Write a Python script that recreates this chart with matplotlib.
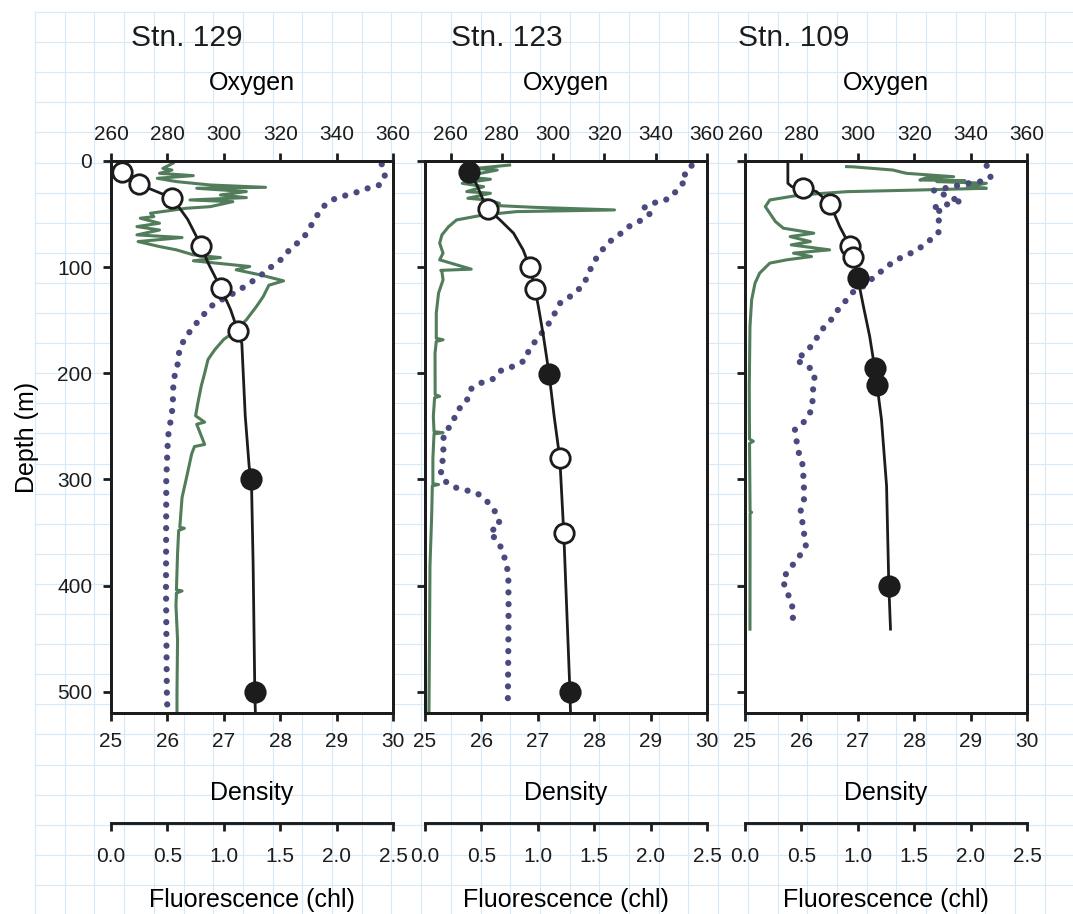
import matplotlib.pyplot as plt
import numpy as np
from matplotlib.lines import Line2D
from matplotlib.ticker import FormatStrFormatter

plt.rcParams['font.family'] = ['Liberation Sans', 'DejaVu Sans']

# --- Stn. 129 ---------------------------------------------------------
dens_z_129 = [10, 22, 35, 55, 80, 96, 120, 140, 160, 172, 240, 288, 300, 380, 500, 520]
dens_129 = [25.19, 25.50, 26.09, 26.36, 26.60, 26.72, 26.95, 27.12, 27.25, 27.32,
            27.38, 27.45, 27.49, 27.52, 27.55, 27.56]
btl_z_129 = [10, 22, 35, 80, 120, 160, 300, 500]
btl_129 = [25.19, 25.50, 26.09, 26.60, 26.95, 27.25, 27.49, 27.55]
btl_fill_129 = [0, 0, 0, 0, 0, 0, 1, 1]
oxy_z_129 = [3, 15, 23, 26, 29, 32, 35, 41, 50, 61, 68, 74, 82, 92, 100, 108, 116, 123,
             129, 135, 146, 157, 167, 178, 189, 200, 211, 222, 233, 244, 256, 267, 300,
             400, 500, 518]
oxy_129 = [356, 357.2, 354.9, 350.7, 347.7, 343.8, 339.7, 336, 333.4, 330.9, 329.4, 327.7,
           323.8, 320.7, 316.7, 313, 308.7, 304.6, 300.4, 296.3, 292.4, 289, 286.2, 284.2,
           283.9, 282.7, 282.1, 282, 281.8, 281.2, 280.4, 280.1, 279.6, 279.5, 279.8, 280]
fl_z_129 = [2, 7, 8.5, 11.6, 13.8, 16.3, 19.4, 22.6, 24.8, 25.7, 28.8, 32, 34.5, 36.7, 38.3,
            43, 44.5, 49.2, 52.4, 53.9, 58.6, 61.8, 65, 69.6, 72.1, 75.9, 80.6, 83.7, 88.4,
            91, 94, 99.4, 102.5, 107.2, 112.9, 117, 127.6, 137, 149.6, 162, 168, 177.8, 187,
            200, 212, 228, 240, 246, 248, 267, 269, 276, 298, 317, 345, 346, 348, 370, 404,
            405, 407, 419, 451, 500, 520]
fl_129 = [0.55, 0.46, 0.54, 0.43, 0.73, 0.41, 0.58, 0.88, 1.37, 0.76, 1.20, 0.97, 1.20, 0.70,
          1.08, 0.88, 0.67, 0.35, 0.38, 0.26, 0.43, 0.23, 0.43, 0.23, 0.63, 0.24, 0.43, 0.58,
          0.73, 0.97, 0.73, 1.23, 1.11, 1.32, 1.53, 1.40, 1.35, 1.29, 1.20, 1.08, 1.00, 0.92,
          0.86, 0.83, 0.80, 0.77, 0.75, 0.83, 0.76, 0.83, 0.74, 0.715, 0.67, 0.63, 0.61, 0.65,
          0.60, 0.59, 0.58, 0.63, 0.58, 0.576, 0.59, 0.585, 0.585]

# --- Stn. 123 ---------------------------------------------------------
dens_z_123 = [10.6, 22.6, 36.7, 45.5, 55.5, 68, 83.7, 100.3, 120.7, 137, 165, 200.4, 240.5,
              280, 350, 500, 520]
dens_123 = [25.78, 25.92, 26.03, 26.12, 26.33, 26.57, 26.74, 26.86, 26.95, 27.01, 27.10,
            27.20, 27.29, 27.39, 27.46, 27.57, 27.58]
btl_z_123 = [10.6, 45.5, 100.3, 120.7, 200.4, 280, 350, 500]
btl_123 = [25.78, 26.12, 26.86, 26.95, 27.20, 27.39, 27.46, 27.57]
btl_fill_123 = [1, 0, 0, 0, 1, 0, 0, 1]
oxy_z_123 = [4.4, 11.6, 17.9, 23.5, 33, 38.3, 39.8, 44.5, 49.2, 56.1, 61.8, 69.6, 76.9, 86.3,
             97.2, 107.2, 117.6, 126.7, 133.9, 144.9, 156.2, 166.2, 177.1, 187.9, 193.5,
             196.9, 205.4, 209.1, 214.8, 219.5, 228, 235.8, 246.8, 256, 267, 278, 289, 300,
             307, 310, 312.6, 321.4, 332.4, 343.4, 349.7, 358.7, 369.7, 380.7, 391.6, 420,
             460, 512]
oxy_123 = [354, 351.2, 352.3, 349.2, 346.6, 342.6, 338, 335.2, 338, 334.1, 329.5, 325.7,
           321.5, 318.3, 315.3, 313.7, 311.5, 307.2, 302.7, 300.3, 297.5, 294.2, 290.7, 289,
           284.4, 279.9, 276.4, 271.8, 267.9, 267.3, 265.9, 262.1, 261, 257.5, 256.9, 257.5,
           255.9, 256.9, 261, 265.7, 270.2, 274.5, 278, 279.3, 275, 278.7, 280.5, 281.9,
           282.5, 282.6, 282.5, 282.3]
fl_z_123 = [3.8, 6.9, 8.5, 14.8, 17.2, 21, 24.2, 28.8, 30.4, 35.1, 36.7, 39.8, 41.4, 43.6,
            46.1, 47.7, 50.8, 55.5, 61.8, 69.6, 77.4, 86.8, 93.1, 101.9, 103, 104.1, 112,
            124.5, 143.3, 167, 168.4, 170, 181, 220, 221.7, 223, 240.5, 255, 256, 257, 280,
            304, 304.8, 306, 334.6, 381.6, 450, 519]
fl_123 = [0.75, 0.46, 0.64, 0.34, 0.58, 0.33, 0.52, 0.37, 0.58, 0.38, 0.55, 0.66, 0.52, 0.96,
          1.68, 0.81, 0.52, 0.28, 0.21, 0.15, 0.13, 0.16, 0.13, 0.41, 0.14, 0.15, 0.16, 0.12,
          0.10, 0.10, 0.16, 0.10, 0.089, 0.09, 0.13, 0.085, 0.074, 0.08, 0.16, 0.08, 0.07,
          0.07, 0.12, 0.065, 0.059, 0.044, 0.04, 0.035]

# --- Stn. 109 ---------------------------------------------------------
dens_z_109 = [3.1, 21, 24.2, 25.1, 28.9, 40.5, 61.8, 80, 90, 110.4, 137, 165, 195, 210.7,
              243.6, 306, 400, 441]
dens_109 = [25.76, 25.76, 25.83, 26.03, 26.27, 26.51, 26.68, 26.86, 26.92, 27.00, 27.10,
            27.21, 27.30, 27.34, 27.42, 27.51, 27.55, 27.58]
btl_z_109 = [25.1, 40.5, 80, 90, 110.4, 195, 210.7, 400]
btl_109 = [26.03, 26.51, 26.86, 26.92, 27.00, 27.30, 27.34, 27.55]
btl_fill_109 = [0, 0, 0, 0, 1, 1, 1, 1]
oxy_z_109 = [4.4, 15.3, 19.4, 21, 27.9, 31, 35.1, 37, 40.5, 41.7, 44.9, 47.7, 57.1, 67.5,
             75.9, 83.7, 89.1, 93.8, 101.6, 108.8, 116.6, 121.4, 131.7, 141.7, 152.1, 161.2,
             170.9, 181, 187.9, 192.5, 200.7, 212.3, 222.6, 233.6, 244.6, 253, 264, 275, 286,
             297, 308, 319, 330, 341, 352, 363, 373, 383, 394, 405, 416, 427, 438]
oxy_109 = [345.7, 347.1, 343.3, 339.2, 326.8, 330.1, 332.7, 337, 332.9, 329.1, 326.3, 329.7,
           328.6, 328.6, 325, 321.1, 317.1, 313, 309.6, 305.7, 303.2, 299, 295.7, 292.5,
           289.9, 286.3, 284.8, 281, 278.1, 282.2, 284.8, 284.2, 284, 283.8, 281.4, 277.7,
           278.3, 279.1, 280.4, 280.7, 280.9, 280.9, 279.7, 280.4, 281, 281.6, 279.1, 276.2,
           273.2, 274.8, 276.4, 277.4, 276]
fl_z_109 = [5.3, 5.5, 8.5, 11.6, 14.8, 16, 17.9, 18.5, 19.4, 21, 24.2, 25.7, 27.3, 28.9, 32,
            36.7, 43, 49.2, 57.1, 63.3, 68, 71.2, 75.9, 79, 83.7, 86.8, 90, 93.1, 96.2, 105.6,
            115, 130.8, 155.9, 212, 262, 264, 266, 330, 331, 332, 441]
fl_109 = [0.90, 0.96, 1.31, 1.43, 1.85, 1.60, 1.55, 1.95, 1.70, 2.14, 1.97, 2.14, 1.55, 0.90,
          0.49, 0.22, 0.18, 0.22, 0.27, 0.34, 0.61, 0.40, 0.58, 0.41, 0.75, 0.43, 0.59, 0.37,
          0.22, 0.13, 0.089, 0.059, 0.044, 0.038, 0.04, 0.074, 0.04, 0.045, 0.059, 0.045,
          0.044]

titles = ['Stn. 129', 'Stn. 123', 'Stn. 109']
oxy_xlims = [(260, 360), (250, 360), (260, 360)]

GREEN = '#517d5b'
PURPLE = '#4a4a7e'
BLACK = '#1c1c1c'

W, H = 1073, 914
fig = plt.figure(figsize=(W / 100, H / 100), dpi=100)

# graph-paper background
for x in np.arange(35, W, 29.7):
    fig.add_artist(Line2D([x / W, x / W], [0, 1 - 12 / H], transform=fig.transFigure,
                          color='#d6e9f7', lw=0.8, zorder=-10))
for y in np.arange(12, H, 30.1):
    fig.add_artist(Line2D([35 / W, 1], [1 - y / H, 1 - y / H], transform=fig.transFigure,
                          color='#d6e9f7', lw=0.8, zorder=-10))

stations = [
    (dens_z_129, dens_129, btl_z_129, btl_129, btl_fill_129, oxy_z_129, oxy_129, fl_z_129, fl_129),
    (dens_z_123, dens_123, btl_z_123, btl_123, btl_fill_123, oxy_z_123, oxy_123, fl_z_123, fl_123),
    (dens_z_109, dens_109, btl_z_109, btl_109, btl_fill_109, oxy_z_109, oxy_109, fl_z_109, fl_109),
]
lefts = [111, 425, 745]
title_x = [131, 451, 738]
tick_kw = dict(direction='out', length=5.5, width=2.0, colors=BLACK, labelsize=15)
SPW = 2.1

for i, (dz, dv, bz, bv, bf, oz, ov, fz, fv) in enumerate(stations):
    ax = fig.add_axes([lefts[i] / W, 201 / H, 282 / W, 552 / H])
    ax.set_facecolor('white')
    ax.set_ylim(520, 0)

    # fluorescence (detached bottom axis)
    ax.plot(fv, fz, color=GREEN, lw=2.2, zorder=2)
    ax.set_xlim(0, 2.5)
    ax.set_xticks(np.arange(0, 2.51, 0.5))
    ax.xaxis.set_major_formatter(FormatStrFormatter('%.1f'))
    ax.spines['bottom'].set_position(('axes', -110 / 552))
    ax.tick_params(axis='x', pad=12, **tick_kw)
    ax.set_xlabel('Fluorescence (chl)', fontsize=18, labelpad=15.5)
    ax.set_yticks(np.arange(0, 501, 100))
    ax.tick_params(axis='y', pad=8, labelleft=(i == 0), **tick_kw)
    if i == 0:
        ax.set_ylabel('Depth (m)', fontsize=18, labelpad=13)
    for s in ax.spines.values():
        s.set_linewidth(SPW)
        s.set_color(BLACK)

    # oxygen (top axis)
    ax_o = ax.twiny()
    ax_o.plot(ov, oz, color=PURPLE, lw=4.5, linestyle=(0, (0.01, 1.87)),
              dash_capstyle='round', zorder=2)
    ax_o.set_xlim(*oxy_xlims[i])
    ax_o.set_xticks(np.arange(260, 361, 20))
    ax_o.tick_params(axis='x', pad=7, **tick_kw)
    ax_o.set_xlabel('Oxygen', fontsize=18, labelpad=25)
    for s in ax_o.spines.values():
        s.set_linewidth(SPW)
        s.set_color(BLACK)

    # density (bottom axis)
    ax_d = ax.twiny()
    ax_d.xaxis.set_ticks_position('bottom')
    ax_d.xaxis.set_label_position('bottom')
    ax_d.plot(dv, dz, color=BLACK, lw=2.0, zorder=3)
    bz = np.array(bz)
    bv = np.array(bv)
    bf = np.array(bf, dtype=bool)
    ax_d.plot(bv[~bf], bz[~bf], 'o', ms=14, mfc='white', mec=BLACK, mew=2.0, zorder=4)
    ax_d.plot(bv[bf], bz[bf], 'o', ms=14, mfc=BLACK, mec=BLACK, mew=2.0, zorder=4)
    ax_d.set_xlim(25, 30)
    ax_d.set_xticks(np.arange(25, 31, 1))
    ax_d.tick_params(axis='x', pad=8, **tick_kw)
    ax_d.set_xlabel('Density', fontsize=18, labelpad=21.5)
    for s in ax_d.spines.values():
        s.set_linewidth(SPW)
        s.set_color(BLACK)

    fig.text(title_x[i] / W, 1 - 38 / H, titles[i], fontsize=21.5, ha='left', va='center',
             color=BLACK)

fig.savefig('out.png', dpi=100, facecolor='white')
